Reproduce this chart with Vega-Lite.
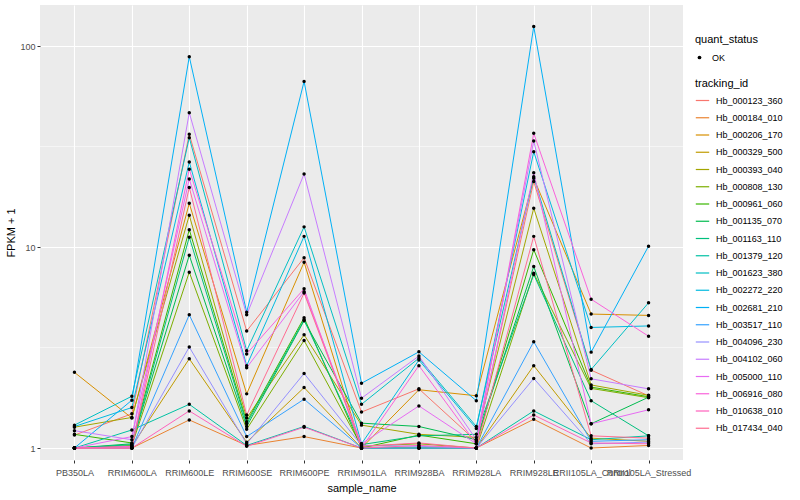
{
"$schema": "https://vega.github.io/schema/vega-lite/v6.json",
"width": 643, "height": 455,
"autosize": {"type": "none"},
"padding": {"left": 40, "top": 5, "right": 117, "bottom": 40},
"background": "white",
"config": {
  "view": {"fill": "#EBEBEB", "stroke": null},
  "font": "Liberation Sans",
  "axis": {"domain": false, "gridColor": "white", "gridWidth": 1.1, "tickColor": "#333333", "tickSize": 3, "labelColor": "#4D4D4D", "labelFontSize": 9, "titleFontSize": 11, "titleFontWeight": "normal", "titleColor": "black", "labelPadding": 2},
  "legend": {"titleFontSize": 11, "titleFontWeight": "normal", "titleColor": "black", "labelFontSize": 9, "labelColor": "black"}
},
"datasets": {
  "minor": [{"v": 3.1623}, {"v": 31.623}],
  "d": [
{"tracking_id":"Hb_000123_360","sample_name":"PB350LA","fpkm":1.16,"quant_status":"OK"},
{"tracking_id":"Hb_000123_360","sample_name":"RRIM600LA","fpkm":1.48,"quant_status":"OK"},
{"tracking_id":"Hb_000123_360","sample_name":"RRIM600LE","fpkm":36.4,"quant_status":"OK"},
{"tracking_id":"Hb_000123_360","sample_name":"RRIM600SE","fpkm":3.82,"quant_status":"OK"},
{"tracking_id":"Hb_000123_360","sample_name":"RRIM600PE","fpkm":8.85,"quant_status":"OK"},
{"tracking_id":"Hb_000123_360","sample_name":"RRIM901LA","fpkm":1.51,"quant_status":"OK"},
{"tracking_id":"Hb_000123_360","sample_name":"RRIM928BA","fpkm":1.97,"quant_status":"OK"},
{"tracking_id":"Hb_000123_360","sample_name":"RRIM928LA","fpkm":1.08,"quant_status":"OK"},
{"tracking_id":"Hb_000123_360","sample_name":"RRIM928LE","fpkm":21.2,"quant_status":"OK"},
{"tracking_id":"Hb_000123_360","sample_name":"RRII105LA_Control","fpkm":2.44,"quant_status":"OK"},
{"tracking_id":"Hb_000123_360","sample_name":"RRII105LA_Stressed","fpkm":1.82,"quant_status":"OK"},
{"tracking_id":"Hb_000184_010","sample_name":"PB350LA","fpkm":1.0,"quant_status":"OK"},
{"tracking_id":"Hb_000184_010","sample_name":"RRIM600LA","fpkm":1.0,"quant_status":"OK"},
{"tracking_id":"Hb_000184_010","sample_name":"RRIM600LE","fpkm":1.38,"quant_status":"OK"},
{"tracking_id":"Hb_000184_010","sample_name":"RRIM600SE","fpkm":1.03,"quant_status":"OK"},
{"tracking_id":"Hb_000184_010","sample_name":"RRIM600PE","fpkm":1.14,"quant_status":"OK"},
{"tracking_id":"Hb_000184_010","sample_name":"RRIM901LA","fpkm":1.0,"quant_status":"OK"},
{"tracking_id":"Hb_000184_010","sample_name":"RRIM928BA","fpkm":1.0,"quant_status":"OK"},
{"tracking_id":"Hb_000184_010","sample_name":"RRIM928LA","fpkm":1.0,"quant_status":"OK"},
{"tracking_id":"Hb_000184_010","sample_name":"RRIM928LE","fpkm":1.39,"quant_status":"OK"},
{"tracking_id":"Hb_000184_010","sample_name":"RRII105LA_Control","fpkm":1.0,"quant_status":"OK"},
{"tracking_id":"Hb_000184_010","sample_name":"RRII105LA_Stressed","fpkm":1.03,"quant_status":"OK"},
{"tracking_id":"Hb_000206_170","sample_name":"PB350LA","fpkm":2.38,"quant_status":"OK"},
{"tracking_id":"Hb_000206_170","sample_name":"RRIM600LA","fpkm":1.41,"quant_status":"OK"},
{"tracking_id":"Hb_000206_170","sample_name":"RRIM600LE","fpkm":16.5,"quant_status":"OK"},
{"tracking_id":"Hb_000206_170","sample_name":"RRIM600SE","fpkm":1.86,"quant_status":"OK"},
{"tracking_id":"Hb_000206_170","sample_name":"RRIM600PE","fpkm":8.4,"quant_status":"OK"},
{"tracking_id":"Hb_000206_170","sample_name":"RRIM901LA","fpkm":1.0,"quant_status":"OK"},
{"tracking_id":"Hb_000206_170","sample_name":"RRIM928BA","fpkm":1.95,"quant_status":"OK"},
{"tracking_id":"Hb_000206_170","sample_name":"RRIM928LA","fpkm":1.82,"quant_status":"OK"},
{"tracking_id":"Hb_000206_170","sample_name":"RRIM928LE","fpkm":22.0,"quant_status":"OK"},
{"tracking_id":"Hb_000206_170","sample_name":"RRII105LA_Control","fpkm":4.64,"quant_status":"OK"},
{"tracking_id":"Hb_000206_170","sample_name":"RRII105LA_Stressed","fpkm":4.57,"quant_status":"OK"},
{"tracking_id":"Hb_000329_500","sample_name":"PB350LA","fpkm":1.0,"quant_status":"OK"},
{"tracking_id":"Hb_000329_500","sample_name":"RRIM600LA","fpkm":1.02,"quant_status":"OK"},
{"tracking_id":"Hb_000329_500","sample_name":"RRIM600LE","fpkm":2.78,"quant_status":"OK"},
{"tracking_id":"Hb_000329_500","sample_name":"RRIM600SE","fpkm":1.07,"quant_status":"OK"},
{"tracking_id":"Hb_000329_500","sample_name":"RRIM600PE","fpkm":2.0,"quant_status":"OK"},
{"tracking_id":"Hb_000329_500","sample_name":"RRIM901LA","fpkm":1.0,"quant_status":"OK"},
{"tracking_id":"Hb_000329_500","sample_name":"RRIM928BA","fpkm":1.0,"quant_status":"OK"},
{"tracking_id":"Hb_000329_500","sample_name":"RRIM928LA","fpkm":1.0,"quant_status":"OK"},
{"tracking_id":"Hb_000329_500","sample_name":"RRIM928LE","fpkm":2.57,"quant_status":"OK"},
{"tracking_id":"Hb_000329_500","sample_name":"RRII105LA_Control","fpkm":1.12,"quant_status":"OK"},
{"tracking_id":"Hb_000329_500","sample_name":"RRII105LA_Stressed","fpkm":1.08,"quant_status":"OK"},
{"tracking_id":"Hb_000393_040","sample_name":"PB350LA","fpkm":1.27,"quant_status":"OK"},
{"tracking_id":"Hb_000393_040","sample_name":"RRIM600LA","fpkm":1.42,"quant_status":"OK"},
{"tracking_id":"Hb_000393_040","sample_name":"RRIM600LE","fpkm":14.4,"quant_status":"OK"},
{"tracking_id":"Hb_000393_040","sample_name":"RRIM600SE","fpkm":1.41,"quant_status":"OK"},
{"tracking_id":"Hb_000393_040","sample_name":"RRIM600PE","fpkm":3.66,"quant_status":"OK"},
{"tracking_id":"Hb_000393_040","sample_name":"RRIM901LA","fpkm":1.30,"quant_status":"OK"},
{"tracking_id":"Hb_000393_040","sample_name":"RRIM928BA","fpkm":1.17,"quant_status":"OK"},
{"tracking_id":"Hb_000393_040","sample_name":"RRIM928LA","fpkm":1.13,"quant_status":"OK"},
{"tracking_id":"Hb_000393_040","sample_name":"RRIM928LE","fpkm":15.6,"quant_status":"OK"},
{"tracking_id":"Hb_000393_040","sample_name":"RRII105LA_Control","fpkm":2.06,"quant_status":"OK"},
{"tracking_id":"Hb_000393_040","sample_name":"RRII105LA_Stressed","fpkm":1.83,"quant_status":"OK"},
{"tracking_id":"Hb_000808_130","sample_name":"PB350LA","fpkm":1.0,"quant_status":"OK"},
{"tracking_id":"Hb_000808_130","sample_name":"RRIM600LA","fpkm":1.03,"quant_status":"OK"},
{"tracking_id":"Hb_000808_130","sample_name":"RRIM600LE","fpkm":7.5,"quant_status":"OK"},
{"tracking_id":"Hb_000808_130","sample_name":"RRIM600SE","fpkm":1.24,"quant_status":"OK"},
{"tracking_id":"Hb_000808_130","sample_name":"RRIM600PE","fpkm":3.43,"quant_status":"OK"},
{"tracking_id":"Hb_000808_130","sample_name":"RRIM901LA","fpkm":1.02,"quant_status":"OK"},
{"tracking_id":"Hb_000808_130","sample_name":"RRIM928BA","fpkm":1.05,"quant_status":"OK"},
{"tracking_id":"Hb_000808_130","sample_name":"RRIM928LA","fpkm":1.0,"quant_status":"OK"},
{"tracking_id":"Hb_000808_130","sample_name":"RRIM928LE","fpkm":7.4,"quant_status":"OK"},
{"tracking_id":"Hb_000808_130","sample_name":"RRII105LA_Control","fpkm":1.98,"quant_status":"OK"},
{"tracking_id":"Hb_000808_130","sample_name":"RRII105LA_Stressed","fpkm":1.78,"quant_status":"OK"},
{"tracking_id":"Hb_000961_060","sample_name":"PB350LA","fpkm":1.17,"quant_status":"OK"},
{"tracking_id":"Hb_000961_060","sample_name":"RRIM600LA","fpkm":1.06,"quant_status":"OK"},
{"tracking_id":"Hb_000961_060","sample_name":"RRIM600LE","fpkm":12.2,"quant_status":"OK"},
{"tracking_id":"Hb_000961_060","sample_name":"RRIM600SE","fpkm":1.35,"quant_status":"OK"},
{"tracking_id":"Hb_000961_060","sample_name":"RRIM600PE","fpkm":4.45,"quant_status":"OK"},
{"tracking_id":"Hb_000961_060","sample_name":"RRIM901LA","fpkm":1.0,"quant_status":"OK"},
{"tracking_id":"Hb_000961_060","sample_name":"RRIM928BA","fpkm":1.16,"quant_status":"OK"},
{"tracking_id":"Hb_000961_060","sample_name":"RRIM928LA","fpkm":1.05,"quant_status":"OK"},
{"tracking_id":"Hb_000961_060","sample_name":"RRIM928LE","fpkm":9.7,"quant_status":"OK"},
{"tracking_id":"Hb_000961_060","sample_name":"RRII105LA_Control","fpkm":2.01,"quant_status":"OK"},
{"tracking_id":"Hb_000961_060","sample_name":"RRII105LA_Stressed","fpkm":1.80,"quant_status":"OK"},
{"tracking_id":"Hb_001135_070","sample_name":"PB350LA","fpkm":1.0,"quant_status":"OK"},
{"tracking_id":"Hb_001135_070","sample_name":"RRIM600LA","fpkm":1.05,"quant_status":"OK"},
{"tracking_id":"Hb_001135_070","sample_name":"RRIM600LE","fpkm":9.1,"quant_status":"OK"},
{"tracking_id":"Hb_001135_070","sample_name":"RRIM600SE","fpkm":1.28,"quant_status":"OK"},
{"tracking_id":"Hb_001135_070","sample_name":"RRIM600PE","fpkm":4.3,"quant_status":"OK"},
{"tracking_id":"Hb_001135_070","sample_name":"RRIM901LA","fpkm":1.33,"quant_status":"OK"},
{"tracking_id":"Hb_001135_070","sample_name":"RRIM928BA","fpkm":1.28,"quant_status":"OK"},
{"tracking_id":"Hb_001135_070","sample_name":"RRIM928LA","fpkm":1.10,"quant_status":"OK"},
{"tracking_id":"Hb_001135_070","sample_name":"RRIM928LE","fpkm":8.0,"quant_status":"OK"},
{"tracking_id":"Hb_001135_070","sample_name":"RRII105LA_Control","fpkm":1.32,"quant_status":"OK"},
{"tracking_id":"Hb_001135_070","sample_name":"RRII105LA_Stressed","fpkm":1.79,"quant_status":"OK"},
{"tracking_id":"Hb_001163_110","sample_name":"PB350LA","fpkm":1.0,"quant_status":"OK"},
{"tracking_id":"Hb_001163_110","sample_name":"RRIM600LA","fpkm":1.04,"quant_status":"OK"},
{"tracking_id":"Hb_001163_110","sample_name":"RRIM600LE","fpkm":11.2,"quant_status":"OK"},
{"tracking_id":"Hb_001163_110","sample_name":"RRIM600SE","fpkm":1.32,"quant_status":"OK"},
{"tracking_id":"Hb_001163_110","sample_name":"RRIM600PE","fpkm":4.35,"quant_status":"OK"},
{"tracking_id":"Hb_001163_110","sample_name":"RRIM901LA","fpkm":1.04,"quant_status":"OK"},
{"tracking_id":"Hb_001163_110","sample_name":"RRIM928BA","fpkm":1.15,"quant_status":"OK"},
{"tracking_id":"Hb_001163_110","sample_name":"RRIM928LA","fpkm":1.17,"quant_status":"OK"},
{"tracking_id":"Hb_001163_110","sample_name":"RRIM928LE","fpkm":7.3,"quant_status":"OK"},
{"tracking_id":"Hb_001163_110","sample_name":"RRII105LA_Control","fpkm":1.72,"quant_status":"OK"},
{"tracking_id":"Hb_001163_110","sample_name":"RRII105LA_Stressed","fpkm":1.15,"quant_status":"OK"},
{"tracking_id":"Hb_001379_120","sample_name":"PB350LA","fpkm":1.0,"quant_status":"OK"},
{"tracking_id":"Hb_001379_120","sample_name":"RRIM600LA","fpkm":1.23,"quant_status":"OK"},
{"tracking_id":"Hb_001379_120","sample_name":"RRIM600LE","fpkm":1.65,"quant_status":"OK"},
{"tracking_id":"Hb_001379_120","sample_name":"RRIM600SE","fpkm":1.03,"quant_status":"OK"},
{"tracking_id":"Hb_001379_120","sample_name":"RRIM600PE","fpkm":1.28,"quant_status":"OK"},
{"tracking_id":"Hb_001379_120","sample_name":"RRIM901LA","fpkm":1.0,"quant_status":"OK"},
{"tracking_id":"Hb_001379_120","sample_name":"RRIM928BA","fpkm":1.0,"quant_status":"OK"},
{"tracking_id":"Hb_001379_120","sample_name":"RRIM928LA","fpkm":1.0,"quant_status":"OK"},
{"tracking_id":"Hb_001379_120","sample_name":"RRIM928LE","fpkm":1.53,"quant_status":"OK"},
{"tracking_id":"Hb_001379_120","sample_name":"RRII105LA_Control","fpkm":1.10,"quant_status":"OK"},
{"tracking_id":"Hb_001379_120","sample_name":"RRII105LA_Stressed","fpkm":1.15,"quant_status":"OK"},
{"tracking_id":"Hb_001623_380","sample_name":"PB350LA","fpkm":1.30,"quant_status":"OK"},
{"tracking_id":"Hb_001623_380","sample_name":"RRIM600LA","fpkm":1.81,"quant_status":"OK"},
{"tracking_id":"Hb_001623_380","sample_name":"RRIM600LE","fpkm":35.0,"quant_status":"OK"},
{"tracking_id":"Hb_001623_380","sample_name":"RRIM600SE","fpkm":3.05,"quant_status":"OK"},
{"tracking_id":"Hb_001623_380","sample_name":"RRIM600PE","fpkm":12.6,"quant_status":"OK"},
{"tracking_id":"Hb_001623_380","sample_name":"RRIM901LA","fpkm":1.65,"quant_status":"OK"},
{"tracking_id":"Hb_001623_380","sample_name":"RRIM928BA","fpkm":2.80,"quant_status":"OK"},
{"tracking_id":"Hb_001623_380","sample_name":"RRIM928LA","fpkm":1.28,"quant_status":"OK"},
{"tracking_id":"Hb_001623_380","sample_name":"RRIM928LE","fpkm":22.4,"quant_status":"OK"},
{"tracking_id":"Hb_001623_380","sample_name":"RRII105LA_Control","fpkm":2.46,"quant_status":"OK"},
{"tracking_id":"Hb_001623_380","sample_name":"RRII105LA_Stressed","fpkm":5.28,"quant_status":"OK"},
{"tracking_id":"Hb_002272_220","sample_name":"PB350LA","fpkm":1.28,"quant_status":"OK"},
{"tracking_id":"Hb_002272_220","sample_name":"RRIM600LA","fpkm":1.59,"quant_status":"OK"},
{"tracking_id":"Hb_002272_220","sample_name":"RRIM600LE","fpkm":26.5,"quant_status":"OK"},
{"tracking_id":"Hb_002272_220","sample_name":"RRIM600SE","fpkm":2.57,"quant_status":"OK"},
{"tracking_id":"Hb_002272_220","sample_name":"RRIM600PE","fpkm":11.3,"quant_status":"OK"},
{"tracking_id":"Hb_002272_220","sample_name":"RRIM901LA","fpkm":1.05,"quant_status":"OK"},
{"tracking_id":"Hb_002272_220","sample_name":"RRIM928BA","fpkm":2.74,"quant_status":"OK"},
{"tracking_id":"Hb_002272_220","sample_name":"RRIM928LA","fpkm":1.25,"quant_status":"OK"},
{"tracking_id":"Hb_002272_220","sample_name":"RRIM928LE","fpkm":29.8,"quant_status":"OK"},
{"tracking_id":"Hb_002272_220","sample_name":"RRII105LA_Control","fpkm":3.98,"quant_status":"OK"},
{"tracking_id":"Hb_002272_220","sample_name":"RRII105LA_Stressed","fpkm":4.05,"quant_status":"OK"},
{"tracking_id":"Hb_002681_210","sample_name":"PB350LA","fpkm":1.0,"quant_status":"OK"},
{"tracking_id":"Hb_002681_210","sample_name":"RRIM600LA","fpkm":1.73,"quant_status":"OK"},
{"tracking_id":"Hb_002681_210","sample_name":"RRIM600LE","fpkm":88.5,"quant_status":"OK"},
{"tracking_id":"Hb_002681_210","sample_name":"RRIM600SE","fpkm":4.74,"quant_status":"OK"},
{"tracking_id":"Hb_002681_210","sample_name":"RRIM600PE","fpkm":66.7,"quant_status":"OK"},
{"tracking_id":"Hb_002681_210","sample_name":"RRIM901LA","fpkm":2.1,"quant_status":"OK"},
{"tracking_id":"Hb_002681_210","sample_name":"RRIM928BA","fpkm":3.01,"quant_status":"OK"},
{"tracking_id":"Hb_002681_210","sample_name":"RRIM928LA","fpkm":1.72,"quant_status":"OK"},
{"tracking_id":"Hb_002681_210","sample_name":"RRIM928LE","fpkm":125,"quant_status":"OK"},
{"tracking_id":"Hb_002681_210","sample_name":"RRII105LA_Control","fpkm":3.0,"quant_status":"OK"},
{"tracking_id":"Hb_002681_210","sample_name":"RRII105LA_Stressed","fpkm":10.1,"quant_status":"OK"},
{"tracking_id":"Hb_003517_110","sample_name":"PB350LA","fpkm":1.0,"quant_status":"OK"},
{"tracking_id":"Hb_003517_110","sample_name":"RRIM600LA","fpkm":1.0,"quant_status":"OK"},
{"tracking_id":"Hb_003517_110","sample_name":"RRIM600LE","fpkm":4.6,"quant_status":"OK"},
{"tracking_id":"Hb_003517_110","sample_name":"RRIM600SE","fpkm":1.14,"quant_status":"OK"},
{"tracking_id":"Hb_003517_110","sample_name":"RRIM600PE","fpkm":1.75,"quant_status":"OK"},
{"tracking_id":"Hb_003517_110","sample_name":"RRIM901LA","fpkm":1.0,"quant_status":"OK"},
{"tracking_id":"Hb_003517_110","sample_name":"RRIM928BA","fpkm":1.0,"quant_status":"OK"},
{"tracking_id":"Hb_003517_110","sample_name":"RRIM928LA","fpkm":1.0,"quant_status":"OK"},
{"tracking_id":"Hb_003517_110","sample_name":"RRIM928LE","fpkm":3.38,"quant_status":"OK"},
{"tracking_id":"Hb_003517_110","sample_name":"RRII105LA_Control","fpkm":1.08,"quant_status":"OK"},
{"tracking_id":"Hb_003517_110","sample_name":"RRII105LA_Stressed","fpkm":1.1,"quant_status":"OK"},
{"tracking_id":"Hb_004096_230","sample_name":"PB350LA","fpkm":1.0,"quant_status":"OK"},
{"tracking_id":"Hb_004096_230","sample_name":"RRIM600LA","fpkm":1.0,"quant_status":"OK"},
{"tracking_id":"Hb_004096_230","sample_name":"RRIM600LE","fpkm":3.18,"quant_status":"OK"},
{"tracking_id":"Hb_004096_230","sample_name":"RRIM600SE","fpkm":1.05,"quant_status":"OK"},
{"tracking_id":"Hb_004096_230","sample_name":"RRIM600PE","fpkm":2.35,"quant_status":"OK"},
{"tracking_id":"Hb_004096_230","sample_name":"RRIM901LA","fpkm":1.03,"quant_status":"OK"},
{"tracking_id":"Hb_004096_230","sample_name":"RRIM928BA","fpkm":1.02,"quant_status":"OK"},
{"tracking_id":"Hb_004096_230","sample_name":"RRIM928LA","fpkm":1.0,"quant_status":"OK"},
{"tracking_id":"Hb_004096_230","sample_name":"RRIM928LE","fpkm":2.22,"quant_status":"OK"},
{"tracking_id":"Hb_004096_230","sample_name":"RRII105LA_Control","fpkm":1.05,"quant_status":"OK"},
{"tracking_id":"Hb_004096_230","sample_name":"RRII105LA_Stressed","fpkm":1.07,"quant_status":"OK"},
{"tracking_id":"Hb_004102_060","sample_name":"PB350LA","fpkm":1.22,"quant_status":"OK"},
{"tracking_id":"Hb_004102_060","sample_name":"RRIM600LA","fpkm":1.10,"quant_status":"OK"},
{"tracking_id":"Hb_004102_060","sample_name":"RRIM600LE","fpkm":46.6,"quant_status":"OK"},
{"tracking_id":"Hb_004102_060","sample_name":"RRIM600SE","fpkm":4.6,"quant_status":"OK"},
{"tracking_id":"Hb_004102_060","sample_name":"RRIM600PE","fpkm":23.1,"quant_status":"OK"},
{"tracking_id":"Hb_004102_060","sample_name":"RRIM901LA","fpkm":1.77,"quant_status":"OK"},
{"tracking_id":"Hb_004102_060","sample_name":"RRIM928BA","fpkm":2.87,"quant_status":"OK"},
{"tracking_id":"Hb_004102_060","sample_name":"RRIM928LA","fpkm":1.10,"quant_status":"OK"},
{"tracking_id":"Hb_004102_060","sample_name":"RRIM928LE","fpkm":33.7,"quant_status":"OK"},
{"tracking_id":"Hb_004102_060","sample_name":"RRII105LA_Control","fpkm":2.21,"quant_status":"OK"},
{"tracking_id":"Hb_004102_060","sample_name":"RRII105LA_Stressed","fpkm":1.97,"quant_status":"OK"},
{"tracking_id":"Hb_005000_110","sample_name":"PB350LA","fpkm":1.0,"quant_status":"OK"},
{"tracking_id":"Hb_005000_110","sample_name":"RRIM600LA","fpkm":1.14,"quant_status":"OK"},
{"tracking_id":"Hb_005000_110","sample_name":"RRIM600LE","fpkm":21.8,"quant_status":"OK"},
{"tracking_id":"Hb_005000_110","sample_name":"RRIM600SE","fpkm":2.51,"quant_status":"OK"},
{"tracking_id":"Hb_005000_110","sample_name":"RRIM600PE","fpkm":6.0,"quant_status":"OK"},
{"tracking_id":"Hb_005000_110","sample_name":"RRIM901LA","fpkm":1.05,"quant_status":"OK"},
{"tracking_id":"Hb_005000_110","sample_name":"RRIM928BA","fpkm":1.62,"quant_status":"OK"},
{"tracking_id":"Hb_005000_110","sample_name":"RRIM928LA","fpkm":1.05,"quant_status":"OK"},
{"tracking_id":"Hb_005000_110","sample_name":"RRIM928LE","fpkm":23.4,"quant_status":"OK"},
{"tracking_id":"Hb_005000_110","sample_name":"RRII105LA_Control","fpkm":1.32,"quant_status":"OK"},
{"tracking_id":"Hb_005000_110","sample_name":"RRII105LA_Stressed","fpkm":1.55,"quant_status":"OK"},
{"tracking_id":"Hb_006916_080","sample_name":"PB350LA","fpkm":1.0,"quant_status":"OK"},
{"tracking_id":"Hb_006916_080","sample_name":"RRIM600LA","fpkm":1.02,"quant_status":"OK"},
{"tracking_id":"Hb_006916_080","sample_name":"RRIM600LE","fpkm":24.4,"quant_status":"OK"},
{"tracking_id":"Hb_006916_080","sample_name":"RRIM600SE","fpkm":2.94,"quant_status":"OK"},
{"tracking_id":"Hb_006916_080","sample_name":"RRIM600PE","fpkm":6.2,"quant_status":"OK"},
{"tracking_id":"Hb_006916_080","sample_name":"RRIM901LA","fpkm":1.0,"quant_status":"OK"},
{"tracking_id":"Hb_006916_080","sample_name":"RRIM928BA","fpkm":2.57,"quant_status":"OK"},
{"tracking_id":"Hb_006916_080","sample_name":"RRIM928LA","fpkm":1.05,"quant_status":"OK"},
{"tracking_id":"Hb_006916_080","sample_name":"RRIM928LE","fpkm":36.8,"quant_status":"OK"},
{"tracking_id":"Hb_006916_080","sample_name":"RRII105LA_Control","fpkm":5.5,"quant_status":"OK"},
{"tracking_id":"Hb_006916_080","sample_name":"RRII105LA_Stressed","fpkm":3.6,"quant_status":"OK"},
{"tracking_id":"Hb_010638_010","sample_name":"PB350LA","fpkm":1.0,"quant_status":"OK"},
{"tracking_id":"Hb_010638_010","sample_name":"RRIM600LA","fpkm":1.0,"quant_status":"OK"},
{"tracking_id":"Hb_010638_010","sample_name":"RRIM600LE","fpkm":1.53,"quant_status":"OK"},
{"tracking_id":"Hb_010638_010","sample_name":"RRIM600SE","fpkm":1.02,"quant_status":"OK"},
{"tracking_id":"Hb_010638_010","sample_name":"RRIM600PE","fpkm":1.27,"quant_status":"OK"},
{"tracking_id":"Hb_010638_010","sample_name":"RRIM901LA","fpkm":1.0,"quant_status":"OK"},
{"tracking_id":"Hb_010638_010","sample_name":"RRIM928BA","fpkm":1.03,"quant_status":"OK"},
{"tracking_id":"Hb_010638_010","sample_name":"RRIM928LA","fpkm":1.0,"quant_status":"OK"},
{"tracking_id":"Hb_010638_010","sample_name":"RRIM928LE","fpkm":1.46,"quant_status":"OK"},
{"tracking_id":"Hb_010638_010","sample_name":"RRII105LA_Control","fpkm":1.06,"quant_status":"OK"},
{"tracking_id":"Hb_010638_010","sample_name":"RRII105LA_Stressed","fpkm":1.05,"quant_status":"OK"},
{"tracking_id":"Hb_017434_040","sample_name":"PB350LA","fpkm":1.0,"quant_status":"OK"},
{"tracking_id":"Hb_017434_040","sample_name":"RRIM600LA","fpkm":1.0,"quant_status":"OK"},
{"tracking_id":"Hb_017434_040","sample_name":"RRIM600LE","fpkm":19.8,"quant_status":"OK"},
{"tracking_id":"Hb_017434_040","sample_name":"RRIM600SE","fpkm":1.46,"quant_status":"OK"},
{"tracking_id":"Hb_017434_040","sample_name":"RRIM600PE","fpkm":5.9,"quant_status":"OK"},
{"tracking_id":"Hb_017434_040","sample_name":"RRIM901LA","fpkm":1.02,"quant_status":"OK"},
{"tracking_id":"Hb_017434_040","sample_name":"RRIM928BA","fpkm":1.06,"quant_status":"OK"},
{"tracking_id":"Hb_017434_040","sample_name":"RRIM928LA","fpkm":1.0,"quant_status":"OK"},
{"tracking_id":"Hb_017434_040","sample_name":"RRIM928LE","fpkm":11.3,"quant_status":"OK"},
{"tracking_id":"Hb_017434_040","sample_name":"RRII105LA_Control","fpkm":1.15,"quant_status":"OK"},
{"tracking_id":"Hb_017434_040","sample_name":"RRII105LA_Stressed","fpkm":1.12,"quant_status":"OK"}
  ]
},
"layer": [
  {
    "data": {"name": "minor"},
    "mark": {"type": "rule", "color": "white", "strokeWidth": 0.55},
    "encoding": {
      "y": {"field": "v", "type": "quantitative", "title": "FPKM + 1",
            "scale": {"type": "log", "domain": [0.872, 160], "nice": false}}
    }
  },
  {
    "data": {"name": "d"},
    "mark": {"type": "line", "strokeWidth": 1},
    "encoding": {
      "x": {"field": "sample_name", "type": "nominal", "title": "sample_name",
            "scale": {"type": "point", "padding": 0.6,
              "domain": ["PB350LA","RRIM600LA","RRIM600LE","RRIM600SE","RRIM600PE","RRIM901LA","RRIM928BA","RRIM928LA","RRIM928LE","RRII105LA_Control","RRII105LA_Stressed"]},
            "axis": {"grid": true, "labelAngle": 0, "labelOverlap": false, "labelBound": false, "labelFlush": false, "labelPadding": 5, "titlePadding": 5}},
      "y": {"field": "fpkm", "type": "quantitative", "title": "FPKM + 1",
            "scale": {"type": "log", "domain": [0.872, 160], "nice": false},
            "axis": {"values": [1, 10, 100], "format": "d", "grid": true, "titlePadding": 3}},
      "color": {"field": "tracking_id", "type": "nominal", "title": "tracking_id",
        "scale": {
          "domain": ["Hb_000123_360","Hb_000184_010","Hb_000206_170","Hb_000329_500","Hb_000393_040","Hb_000808_130","Hb_000961_060","Hb_001135_070","Hb_001163_110","Hb_001379_120","Hb_001623_380","Hb_002272_220","Hb_002681_210","Hb_003517_110","Hb_004096_230","Hb_004102_060","Hb_005000_110","Hb_006916_080","Hb_010638_010","Hb_017434_040"],
          "range": ["#F8766D","#EA8331","#D89000","#C09B00","#A3A500","#7CAE00","#39B600","#00BB4E","#00BF7D","#00C1A3","#00BFC4","#00BAE0","#00B0F6","#35A2FF","#9590FF","#C77CFF","#E76BF3","#FA62DB","#FF62BC","#FF6C91"]},
        "legend": {"orient": "none", "legendX": 655, "legendY": 73, "symbolType": "stroke", "symbolSize": 180, "symbolStrokeWidth": 1.2, "rowPadding": 4.25, "titlePadding": 4, "labelOffset": 6}}
    }
  },
  {
    "data": {"name": "d"},
    "mark": {"type": "point", "filled": true, "color": "black", "size": 12, "opacity": 1},
    "encoding": {
      "x": {"field": "sample_name", "type": "nominal"},
      "y": {"field": "fpkm", "type": "quantitative", "title": "FPKM + 1"},
      "shape": {"field": "quant_status", "type": "nominal", "title": "quant_status",
        "scale": {"range": ["circle"]},
        "legend": {"orient": "none", "legendX": 655, "legendY": 29, "symbolFillColor": "black", "symbolStrokeColor": "black", "symbolSize": 14, "titlePadding": 8, "labelOffset": 8}}
    }
  }
]
}
